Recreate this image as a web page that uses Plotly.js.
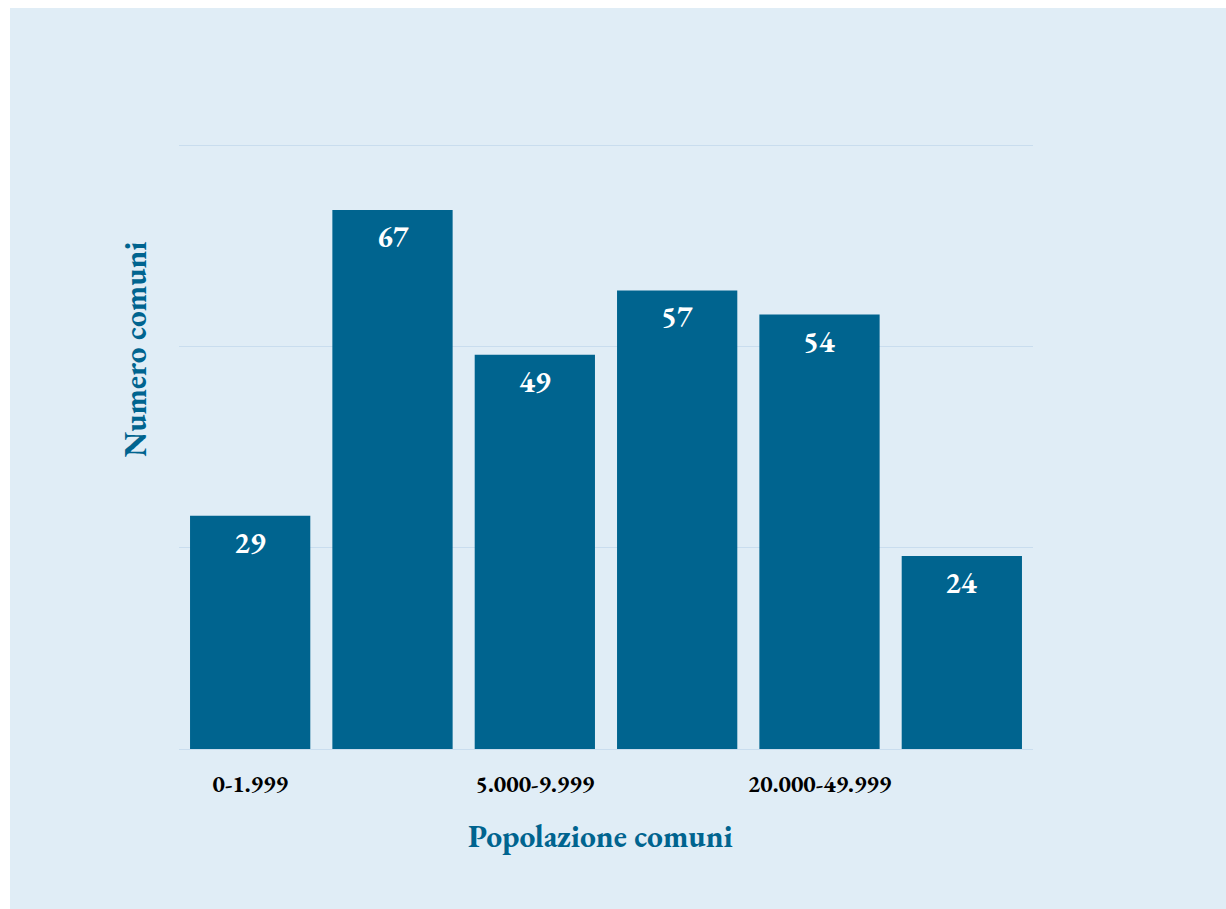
<!DOCTYPE html>
<html>
<head>
<meta charset="utf-8">
<script src="https://cdn.plot.ly/plotly-3.0.1.min.js"></script>
<style>
  html, body { margin: 0; padding: 0; background: #ffffff; overflow: hidden; }
  #chart { position: absolute; left: 10px; top: 8px; width: 1216px; height: 901px; }
</style>
</head>
<body>
<div id="chart"></div>
<script>
const categories = ["0-1.999", "2.000-4.999", "5.000-9.999", "10.000-19.999", "20.000-49.999", "50.000 e oltre"];
const values = [29, 67, 49, 57, 54, 24];
const xTitle = "Popolazione comuni";
const yTitle = "Numero comuni";

const FONT = "'EB Garamond', Garamond, 'Liberation Serif', serif";
const BLUE = "#00648f";
const BG = "#e0edf6";
const GRID = "#c9ddee";

const trace = {
  type: "bar",
  x: categories,
  y: values,
  marker: { color: BLUE },
  hoverinfo: "x+y"
};

const labelAnnotations = categories.map((c, i) => ({
  x: c, y: values[i], xref: "x", yref: "y",
  text: "<b>" + values[i] + "</b>",
  showarrow: false, yanchor: "top", yshift: -5,
  font: { family: FONT, size: 30, color: "#ffffff" }
}));

const layout = {
  width: 1216, height: 901,
  margin: { l: 169, r: 193, t: 136, b: 160 },
  paper_bgcolor: BG,
  plot_bgcolor: BG,
  bargap: 0.155,
  showlegend: false,
  font: { family: FONT, color: "#000000" },
  xaxis: {
    type: "category",
    dtick: 2, tick0: 0,
    showgrid: false, zeroline: false, showline: false,
    ticks: "",
    ticklabelstandoff: 18,
    tickfont: { family: FONT, size: 23.5, color: "#000000", weight: "bold" },
    fixedrange: true
  },
  yaxis: {
    range: [0, 75.2],
    dtick: 25,
    showticklabels: false,
    showgrid: true, gridcolor: GRID, gridwidth: 1,
    zeroline: true, zerolinecolor: GRID, zerolinewidth: 1,
    ticks: "",
    fixedrange: true
  },
  annotations: labelAnnotations.concat([
    {
      x: 0.494, y: -0.1426, xref: "paper", yref: "paper",
      xanchor: "center", yanchor: "middle",
      text: "<b>" + xTitle + "</b>", showarrow: false,
      font: { family: FONT, size: 31.5, color: BLUE }
    },
    {
      x: -0.052, y: 0.66, xref: "paper", yref: "paper",
      xanchor: "center", yanchor: "middle", textangle: -90,
      text: "<b>" + yTitle + "</b>", showarrow: false,
      font: { family: FONT, size: 31.5, color: BLUE }
    }
  ])
};

Plotly.newPlot("chart", [trace], layout, { displayModeBar: false, responsive: false });
</script>
</body>
</html>
